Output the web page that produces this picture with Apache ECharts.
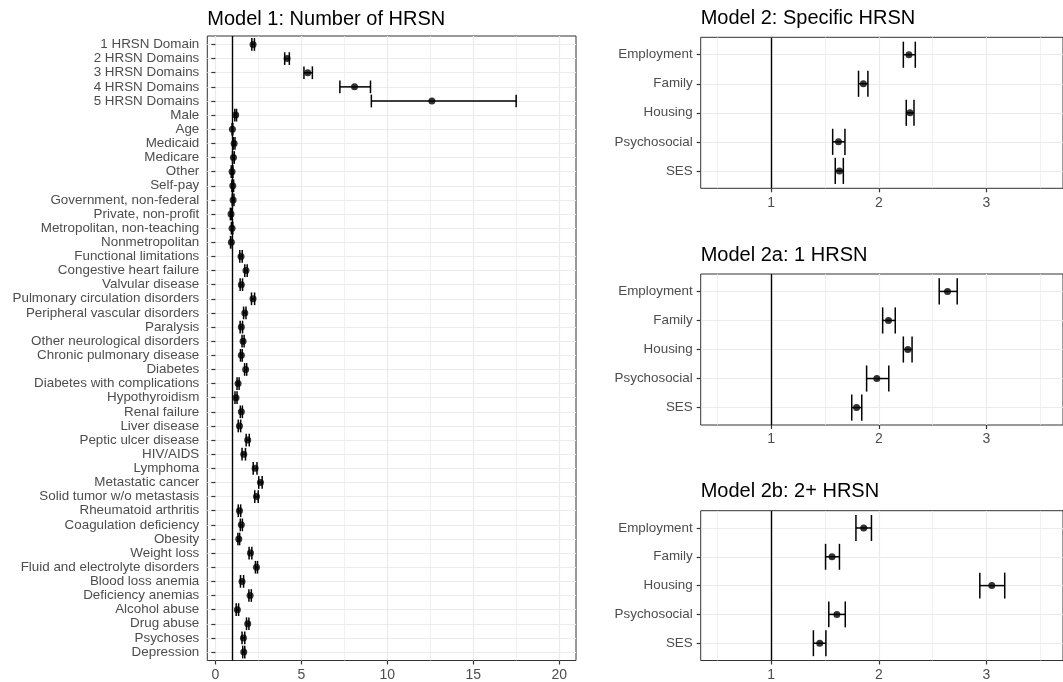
<!DOCTYPE html>
<html>
<head>
<meta charset="utf-8">
<script src="https://cdn.jsdelivr.net/npm/echarts@6/dist/echarts.min.js"></script>
<style>
html,body{margin:0;padding:0;background:#fff;}
#chart{width:1063px;height:682px;}
</style>
</head>
<body>
<div id="chart"></div>
<script>
// ---------- DATA ----------
const titles = ["Model 1: Number of HRSN", "Model 2: Specific HRSN", "Model 2a: 1 HRSN", "Model 2b: 2+ HRSN"];

const cats1 = ["1 HRSN Domain","2 HRSN Domains","3 HRSN Domains","4 HRSN Domains","5 HRSN Domains","Male","Age","Medicaid","Medicare","Other","Self-pay","Government, non-federal","Private, non-profit","Metropolitan, non-teaching","Nonmetropolitan","Functional limitations","Congestive heart failure","Valvular disease","Pulmonary circulation disorders","Peripheral vascular disorders","Paralysis","Other neurological disorders","Chronic pulmonary disease","Diabetes","Diabetes with complications","Hypothyroidism","Renal failure","Liver disease","Peptic ulcer disease","HIV/AIDS","Lymphoma","Metastatic cancer","Solid tumor w/o metastasis","Rheumatoid arthritis","Coagulation deficiency","Obesity","Weight loss","Fluid and electrolyte disorders","Blood loss anemia","Deficiency anemias","Alcohol abuse","Drug abuse","Psychoses","Depression"];
const est1 = [2.19,4.17,5.37,8.09,12.59,1.18,0.99,1.09,1.05,0.97,1.01,1.03,0.91,0.97,0.93,1.49,1.78,1.51,2.19,1.71,1.51,1.61,1.51,1.76,1.32,1.20,1.51,1.40,1.88,1.65,2.31,2.62,2.39,1.40,1.51,1.36,2.04,2.39,1.55,2.02,1.28,1.88,1.63,1.65];
const lo1  = [2.12,4.03,5.15,7.24,9.07,1.13,0.97,1.04,1.00,0.92,0.96,0.98,0.87,0.93,0.88,1.42,1.71,1.44,2.10,1.64,1.44,1.55,1.46,1.70,1.26,1.14,1.45,1.33,1.79,1.55,2.20,2.52,2.29,1.33,1.45,1.31,1.96,2.33,1.46,1.95,1.21,1.81,1.55,1.59];
const hi1  = [2.27,4.30,5.64,9.02,17.49,1.23,1.01,1.14,1.10,1.02,1.06,1.08,0.95,1.01,0.98,1.56,1.85,1.58,2.28,1.78,1.58,1.67,1.56,1.82,1.38,1.26,1.57,1.47,1.97,1.75,2.42,2.72,2.49,1.47,1.57,1.41,2.12,2.45,1.64,2.09,1.35,1.95,1.71,1.71];
const ticks1 = [0,5,10,15,20];
const minor1 = [2.5,7.5,12.5,17.5];

const cats2 = ["Employment","Family","Housing","Psychosocial","SES"];
const m2Est = [2.28,1.857,2.29,1.626,1.635];
const m2Lo  = [2.228,1.812,2.255,1.572,1.596];
const m2Hi  = [2.339,1.899,2.327,1.686,1.671];
const m2aEst = [2.638,2.090,2.270,1.982,1.794];
const m2aLo  = [2.561,2.036,2.228,1.887,1.749];
const m2aHi  = [2.728,2.153,2.309,2.093,1.842];
const m2bEst = [1.860,1.566,3.049,1.611,1.452];
const m2bLo  = [1.788,1.506,2.938,1.536,1.393];
const m2bHi  = [1.932,1.635,3.169,1.689,1.509];
const ticks2 = [1,2,3];
const minor2 = [0.5,1.5,2.5,3.5];

// ---------- LAYOUT ----------
const FONT = "Liberation Sans, Arial, sans-serif";
const panels = [
  {left:207.3, width:368.7, top:36, height:626, xmin:-0.47, xmax:20.97, cats:cats1, est:est1, lo:lo1, hi:hi1, ticks:ticks1, minor:minor1, titleTop:9.3},
  {left:700.7, width:374, top:37.3, height:151, xmin:0.347, xmax:3.71, cats:cats2, est:m2Est, lo:m2Lo, hi:m2Hi, ticks:ticks2, minor:minor2, titleTop:8.5},
  {left:700.7, width:374, top:274, height:151, xmin:0.347, xmax:3.71, cats:cats2, est:m2aEst, lo:m2aLo, hi:m2aHi, ticks:ticks2, minor:minor2, titleTop:245},
  {left:700.7, width:374, top:510.7, height:151, xmin:0.347, xmax:3.71, cats:cats2, est:m2bEst, lo:m2bLo, hi:m2bHi, ticks:ticks2, minor:minor2, titleTop:481.3}
];

const grid = [], xAxis = [], yAxis = [], series = [], title = [];
panels.forEach((p, i) => {
  grid.push({left:p.left, width:p.width, top:p.top, height:p.height, show:true, borderColor:'#333', borderWidth:1, backgroundColor:'#fff', containLabel:false});
  title.push({text:titles[i], left:p.left, top:p.titleTop, padding:0, textStyle:{fontFamily:FONT, fontSize:20, fontWeight:'normal', color:'#000'}});
  // major x axis
  xAxis.push({type:'value', gridIndex:i, min:p.xmin, max:p.xmax, position:'bottom',
    axisLine:{show:false},
    axisTick:{show:true, customValues:p.ticks, length:4, lineStyle:{color:'#333', width:1.2}},
    axisLabel:{show:true, customValues:p.ticks, margin:7.5, color:'#4d4d4d', fontFamily:FONT, fontSize:14},
    splitLine:{show:true, lineStyle:{color:'#ebebeb', width:1.2}}
  });
  // minor x grid
  xAxis.push({type:'value', gridIndex:i, min:p.xmin, max:p.xmax, position:'top',
    axisLine:{show:false}, axisLabel:{show:false},
    axisTick:{show:false, customValues:p.minor},
    splitLine:{show:true, lineStyle:{color:'#ebebeb', width:0.7}}
  });
  const idx = p.cats.map((c, k) => k + 1);
  yAxis.push({type:'value', gridIndex:i, inverse:true, min:0.4, max:p.cats.length + 0.6,
    axisLine:{show:false},
    axisTick:{show:true, customValues:idx, length:4, lineStyle:{color:'#333', width:1.2}},
    axisLabel:{show:true, customValues:idx, margin:8, color:'#4d4d4d', fontFamily:FONT, fontSize:13.4,
      formatter:(v) => p.cats[Math.round(v) - 1]},
    splitLine:{show:true, lineStyle:{color:'#ebebeb', width:1.2}}
  });
  const xi = i * 2;
  series.push({type:'custom', xAxisIndex:xi, yAxisIndex:i, z:3, silent:true,
    data:p.cats.map((c, k) => [p.lo[k], p.hi[k], k + 1]),
    encode:{x:[0,1], y:2},
    renderItem:(params, api) => {
      const a = api.coord([api.value(0), api.value(2)]);
      const b = api.coord([api.value(1), api.value(2)]);
      const h = api.size([0, 1])[1] * 0.9 / 2;
      const st = {stroke:'#000', lineWidth:1.5, fill:null};
      return {type:'group', children:[
        {type:'line', shape:{x1:a[0], y1:a[1], x2:b[0], y2:b[1]}, style:st},
        {type:'line', shape:{x1:a[0], y1:a[1]-h, x2:a[0], y2:a[1]+h}, style:st},
        {type:'line', shape:{x1:b[0], y1:b[1]-h, x2:b[0], y2:b[1]+h}, style:st}
      ]};
    }
  });
  series.push({type:'scatter', xAxisIndex:xi, yAxisIndex:i, z:4, silent:true,
    data:p.cats.map((c, k) => [p.est[k], k + 1]),
    symbol:'circle', symbolSize:7, itemStyle:{color:'#000'},
    markLine:{silent:true, symbol:'none', label:{show:false}, animation:false,
      lineStyle:{color:'#000', width:1.4, type:'solid'},
      data:[{xAxis:1}]}
  });
});

const chart = echarts.init(document.getElementById('chart'), null, {renderer:'canvas'});
chart.setOption({animation:false, backgroundColor:'#fff', title, grid, xAxis, yAxis, series});
</script>
</body>
</html>
